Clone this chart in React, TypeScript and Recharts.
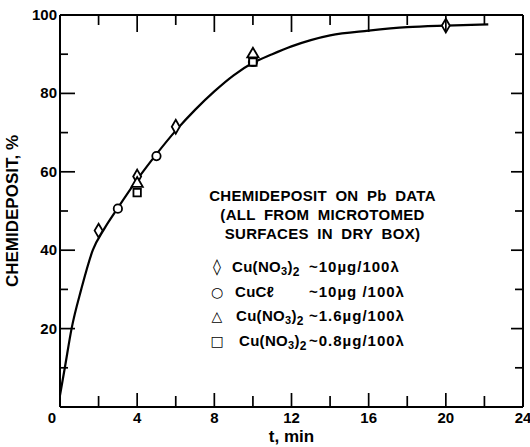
import { ComposedChart, Line, Scatter, XAxis, YAxis, ZAxis } from "recharts";

// fitted curve
const CURVE_T = [0, 0.25, 0.6, 1.1, 1.7, 2.3, 3, 4, 5, 6, 7, 8, 9, 10, 11, 12, 13, 14, 16, 18, 20, 22.2];
const CURVE_Y = [3, 10, 20, 30, 40, 45.5, 50.8, 58, 64.5, 70.5, 75.8, 80.5, 84.6, 87.8, 90, 92, 93.6, 94.8, 96, 96.9, 97.3, 97.6];

// measured points, one pair of arrays per solution
const DIAMOND_T = [2, 4, 6, 10, 20];
const DIAMOND_Y = [45, 58.8, 71.5, 89, 97.3];
const CIRCLE_T = [3, 5, 10];
const CIRCLE_Y = [50.6, 64, 88];
const TRIANGLE_T = [4, 10];
const TRIANGLE_Y = [57, 90];
const SQUARE_T = [4, 10];
const SQUARE_Y = [54.7, 88];

const X_TICKS = [0, 2, 4, 6, 8, 10, 12, 14, 16, 18, 20, 22, 24];
const Y_TICKS = [0, 10, 20, 30, 40, 50, 60, 70, 80, 90, 100];

const LEGEND_TITLE = ["CHEMIDEPOSIT ON Pb DATA", "(ALL FROM MICROTOMED", "SURFACES IN DRY BOX)"];
const LEGEND_GLYPHS = ["\u25ca", "\u25cb", "\u25b3", "\u25a1"];
const LEGEND_SALTS = ["nitrate", "chloride", "nitrate", "nitrate"];
const LEGEND_AMOUNTS = ["~10\u00b5g/100\u03bb", "~10\u00b5g /100\u03bb", "~1.6\u00b5g/100\u03bb", "~0.8\u00b5g/100\u03bb"];

const zip = (ts: number[], ys: number[]) => ts.map((t, i) => ({ t, y: ys[i] }));
const curveData = zip(CURVE_T, CURVE_Y);

const FONT = "'Liberation Sans', Arial, sans-serif";
const INK = "#000";

const tickText = { fontFamily: FONT, fontWeight: 700, fontSize: 15, fill: INK };

const BottomTick = ({ x, y, payload }: any) => {
  const v = payload.value;
  const major = v % 4 === 0;
  return (
    <g>
      <line x1={x} y1={y} x2={x} y2={y - (major ? 14 : 11)} stroke="#000" strokeWidth={1.7} />
      {major && (
        <text x={v === 0 ? x - 8 : x} y={y + 16} textAnchor="middle" style={tickText}>
          {v}
        </text>
      )}
    </g>
  );
};

const TopTick = ({ x, y, payload }: any) => {
  const major = payload.value % 4 === 0;
  return (
    <g>
      <line x1={x} y1={y} x2={x} y2={y + (major ? 17 : 10)} stroke="#000" strokeWidth={1.7} />
    </g>
  );
};

const LeftTick = ({ x, y, payload }: any) => {
  const v = payload.value;
  const major = v % 20 === 0;
  return (
    <g>
      <line x1={x} y1={y} x2={x + (major ? 15 : 8)} y2={y} stroke="#000" strokeWidth={1.7} />
      {major && v > 0 && (
        <text x={x - 3} y={y + 5} textAnchor="end" style={tickText}>
          {v}
        </text>
      )}
    </g>
  );
};

const RightTick = ({ x, y, payload }: any) => {
  const major = payload.value % 20 === 0;
  return (
    <g>
      <line x1={x} y1={y} x2={x - (major ? 12 : 8)} y2={y} stroke="#000" strokeWidth={1.7} />
    </g>
  );
};

function Salt({ kind }: { kind: string }) {
  if (kind === "chloride") return <span>CuC&#8467;</span>;
  return (
    <span>
      Cu(NO<sub style={{ fontSize: 11, verticalAlign: -3 }}>3</sub>)<sub style={{ fontSize: 12, verticalAlign: -4 }}>2</sub>
    </span>
  );
}

const SALT_LEFT = [27, 30, 31, 34];

function LegendBox() {
  return (
    <div style={{ position: "absolute", left: 205, top: 186, width: 235, fontFamily: FONT, fontWeight: 700, fontSize: 15, color: INK }}>
      <div style={{ textAlign: "center", lineHeight: "19px", wordSpacing: 4, letterSpacing: 0.3 }}>
        {LEGEND_TITLE.map((line) => (
          <div key={line}>{line}</div>
        ))}
      </div>
      <div style={{ marginTop: 12 }}>
        {LEGEND_GLYPHS.map((glyph, i) => (
          <div key={i} style={{ position: "relative", height: 24.5, lineHeight: "24px" }}>
            <span style={{ position: "absolute", left: 3, width: 18, textAlign: "center", fontFamily: "'DejaVu Sans', sans-serif", fontSize: i === 0 ? 16 : 14 }}>
              {glyph}
            </span>
            <span style={{ position: "absolute", left: SALT_LEFT[i], letterSpacing: 0.3 }}>
              <Salt kind={LEGEND_SALTS[i]} />
            </span>
            <span style={{ position: "absolute", left: 104, letterSpacing: 1 }}>{LEGEND_AMOUNTS[i]}</span>
          </div>
        ))}
      </div>
    </div>
  );
}

export default function App() {
  return (
    <div style={{ position: "absolute", left: 0, top: 0, width: 530, height: 447, background: "#fff" }}>
      <ComposedChart width={530} height={447} data={curveData} margin={{ top: 14, right: 6, bottom: 0, left: 0 }}>
        <XAxis
          dataKey="t"
          type="number"
          domain={[0, 24]}
          ticks={X_TICKS}
          interval={0}
          height={40}
          tickSize={0}
          tickMargin={0}
          tickLine={false}
          tick={<BottomTick />}
          axisLine={{ stroke: INK, strokeWidth: 2 }}
          label={{ value: "t, min", position: "insideBottom", offset: 5, style: { fontFamily: FONT, fontWeight: 700, fontSize: 17, fill: INK } }}
        />
        <XAxis
          xAxisId="top"
          orientation="top"
          dataKey="t"
          type="number"
          domain={[0, 24]}
          ticks={X_TICKS}
          interval={0}
          height={1}
          tickSize={0}
          tickMargin={0}
          tickLine={false}
          tick={<TopTick />}
          axisLine={{ stroke: INK, strokeWidth: 2 }}
        />
        <YAxis
          type="number"
          domain={[0, 100]}
          ticks={Y_TICKS}
          interval={0}
          width={60}
          tickSize={0}
          tickMargin={0}
          tickLine={false}
          tick={<LeftTick />}
          axisLine={{ stroke: INK, strokeWidth: 2 }}
          label={{ value: "CHEMIDEPOSIT, %", angle: -90, position: "insideLeft", offset: 12, style: { fontFamily: FONT, fontWeight: 700, fontSize: 17, fill: INK, textAnchor: "middle" } }}
        />
        <YAxis
          yAxisId="right"
          orientation="right"
          type="number"
          domain={[0, 100]}
          ticks={Y_TICKS}
          interval={0}
          width={1}
          tickSize={0}
          tickMargin={0}
          tickLine={false}
          tick={<RightTick />}
          axisLine={{ stroke: INK, strokeWidth: 2 }}
        />
        <ZAxis range={[55, 55]} />
        {/* invisible twin so the top and right frame axes have a series */}
        <Line xAxisId="top" yAxisId="right" dataKey="y" stroke="none" dot={false} isAnimationActive={false} />
        <Line dataKey="y" type="monotone" stroke={INK} strokeWidth={2.2} dot={false} isAnimationActive={false} />
        <Scatter data={zip(DIAMOND_T, DIAMOND_Y)} dataKey="y" shape="diamond" fill="#fff" stroke={INK} strokeWidth={1.8} isAnimationActive={false} />
        <Scatter data={zip(CIRCLE_T, CIRCLE_Y)} dataKey="y" shape="circle" fill="#fff" stroke={INK} strokeWidth={1.8} isAnimationActive={false} />
        <Scatter data={zip(TRIANGLE_T, TRIANGLE_Y)} dataKey="y" shape="triangle" fill="#fff" stroke={INK} strokeWidth={1.8} isAnimationActive={false} />
        <Scatter data={zip(SQUARE_T, SQUARE_Y)} dataKey="y" shape="square" fill="#fff" stroke={INK} strokeWidth={1.8} isAnimationActive={false} />
      </ComposedChart>
      <LegendBox />
    </div>
  );
}
